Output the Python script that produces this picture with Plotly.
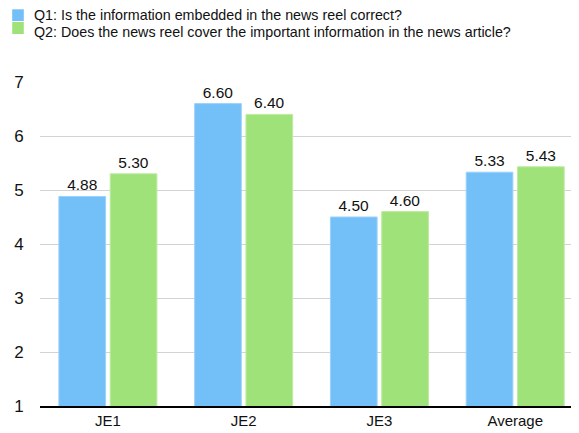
import plotly.graph_objects as go

categories = ["JE1", "JE2", "JE3", "Average"]
q1_values = [4.88, 6.60, 4.50, 5.33]
q2_values = [5.30, 6.40, 4.60, 5.43]
q1_name = "Q1: Is the information embedded in the news reel correct?"
q2_name = "Q2: Does the news reel cover the important information in the news article?"

blue = "#73BFF8"
green = "#A0E27A"
font_family = "Liberation Sans, Arial, Helvetica, sans-serif"

fig = go.Figure()
for name, vals, col, lc in [(q1_name, q1_values, blue, "#9CD2FA"), (q2_name, q2_values, green, "#BDEBA2")]:
    fig.add_trace(go.Bar(
        x=categories, y=vals, name=name, showlegend=False,
        marker=dict(color=col, line=dict(color=lc, width=1)),
        text=[f"{v:.2f}" for v in vals], textposition="outside",
        textfont=dict(size=15.5, color="#111111", family=font_family),
        cliponaxis=False,
    ))

# legend drawn as swatches + text (pixel offsets from the plot's top-left corner)
legend_items = [(q1_name, blue, 61, 72.7, 67.5), (q2_name, green, 48, 60, 50.5)]
for name, col, y0, y1, ty in legend_items:
    fig.add_shape(type="rect", xref="paper", yref="paper",
                  xsizemode="pixel", ysizemode="pixel", xanchor=0, yanchor=1,
                  x0=-27.8, x1=-16.2, y0=y0, y1=y1,
                  fillcolor=col, line=dict(width=0))
    fig.add_annotation(text=name, xref="paper", yref="paper", x=0, y=1,
                       xanchor="left", yanchor="middle", xshift=-7.5, yshift=ty,
                       showarrow=False, borderpad=0,
                       font=dict(size=14.3, color="#111111"))

fig.update_layout(
    width=571, height=425,
    margin=dict(l=31.5, r=0, t=74, b=26.7),
    paper_bgcolor="white", plot_bgcolor="white",
    barmode="group", bargap=0.244, bargroupgap=0.09,
    font=dict(family=font_family, color="#111111"),
    showlegend=False,
)
fig.update_yaxes(range=[1, 7], dtick=1, showgrid=True, gridcolor="#D3D3D3", gridwidth=1,
                 zeroline=False, showline=False, tickfont=dict(size=17),
                 ticks="outside", ticklen=12, tickcolor="rgba(0,0,0,0)")
fig.update_xaxes(range=[-0.5, 3.47], showline=True, linecolor="#000000", linewidth=1.5,
                 tickfont=dict(size=15), ticks="", showgrid=False)

fig.write_html("out.html")
